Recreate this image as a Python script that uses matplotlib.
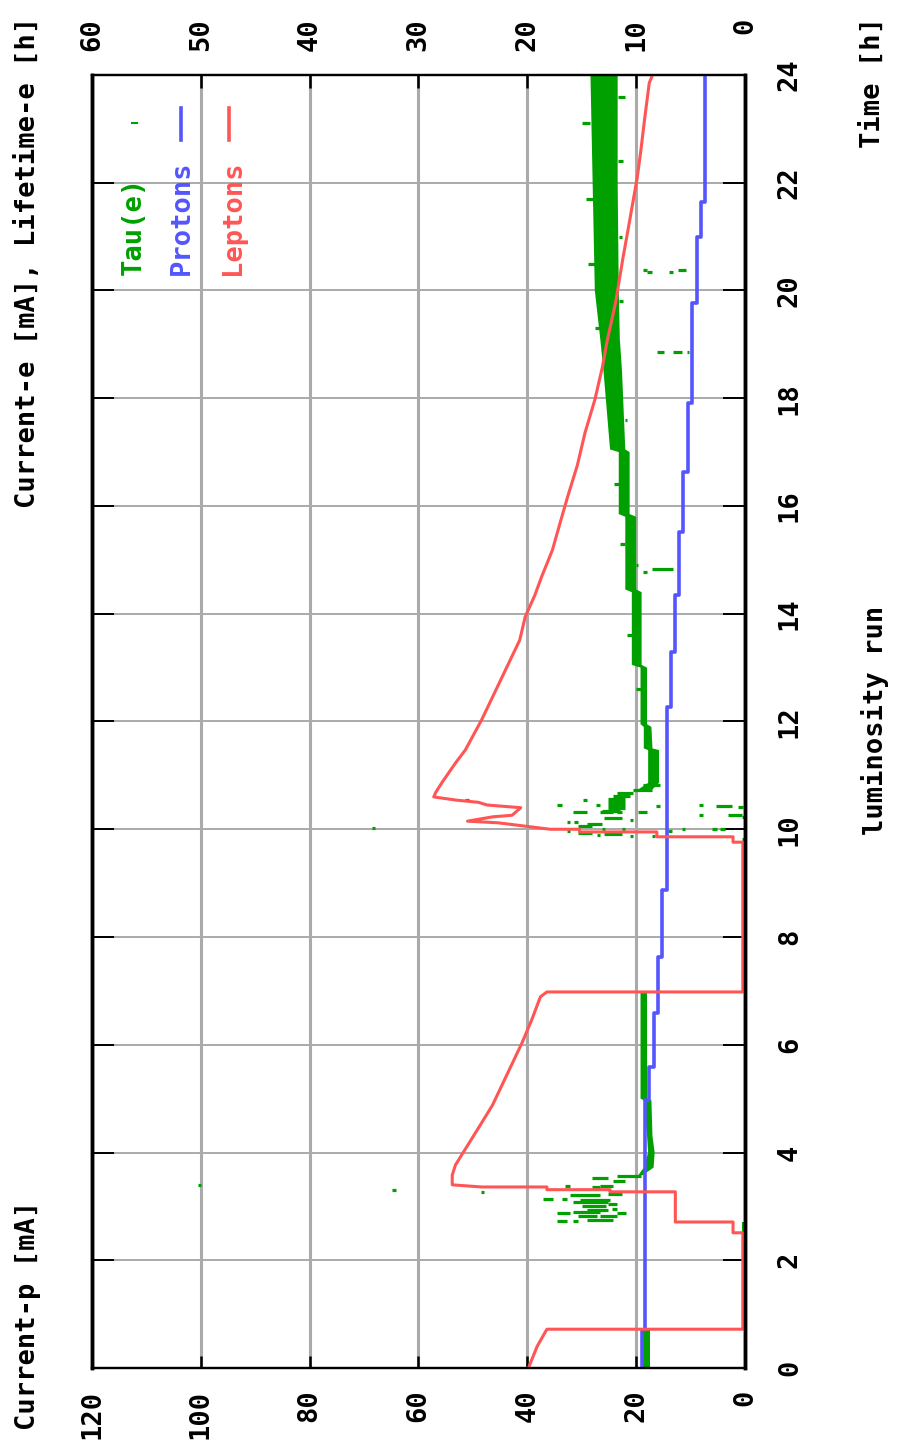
import matplotlib
matplotlib.use("Agg")
import matplotlib.pyplot as plt
import numpy as np

# proton current [mA] (left axis), step values starting at given time [h]
proton_t = [0, 0.7, 4.97, 5.59, 6.59, 7.63, 8.87, 12.27, 13.29, 14.35, 15.52, 16.63, 17.91, 19.77, 20.99, 21.64, 24]
proton_mA = [18.9, 18.4, 17.6, 16.7, 16.0, 15.3, 14.3, 13.6, 12.9, 12.1, 11.4, 10.5, 9.7, 8.8, 8.1, 7.4, 7.4]

# lepton current [mA] (right axis), polyline (time, current)
lepton = [
    (0.0, 19.9), (0.4, 19.1), (0.58, 18.6), (0.72, 18.2), (0.72, 0.2), (2.51, 0.2),
    (2.51, 1.1), (2.71, 1.1), (2.71, 6.4), (3.27, 6.4), (3.27, 12.4), (3.31, 12.4),
    (3.31, 18.2), (3.36, 18.2), (3.36, 24.2), (3.40, 26.9), (3.58, 26.9), (3.77, 26.6),
    (4.55, 24.2), (4.88, 23.2), (6.03, 20.5), (6.46, 19.6), (6.89, 18.8), (6.98, 18.2),
    (6.98, 0.2), (9.76, 0.2), (9.76, 1.1), (9.86, 1.1), (9.86, 8.1), (9.95, 8.1),
    (9.95, 15.2), (10.0, 15.2), (10.0, 17.9), (10.12, 22.7), (10.15, 25.5), (10.23, 23.2),
    (10.26, 21.4), (10.40, 20.6), (10.45, 23.7), (10.50, 24.5), (10.54, 26.5), (10.60, 28.6),
    (10.69, 28.4), (10.88, 27.8), (11.23, 26.6), (11.47, 25.7), (12.03, 24.2), (13.51, 20.7),
    (13.94, 20.2), (14.35, 19.3), (14.68, 18.7), (15.18, 17.7), (15.68, 17.0), (16.17, 16.3),
    (16.76, 15.4), (17.36, 14.7), (17.97, 13.8), (18.58, 13.1), (19.03, 12.7), (19.77, 11.9),
    (20.62, 11.2), (21.18, 10.7), (22.1, 9.9), (22.55, 9.6), (23.22, 9.2), (23.85, 8.8), (24.0, 8.5),
]

# lifetime tau(e) [h] (right axis): band of the dense dots (time, low, high), nan = no beam
tau_band = [
    (0.0, 8.7, 9.5), (0.72, 8.7, 9.5), (np.nan, np.nan, np.nan),
    (2.51, 0.0, 0.3), (2.71, 0.0, 0.3), (np.nan, np.nan, np.nan),
    (3.58, 9.4, 9.8), (3.72, 8.4, 9.3), (4.0, 8.3, 8.9), (4.3, 8.5, 9.0), (4.97, 8.6, 9.3),
    (5.0, 9.0, 9.6), (6.98, 9.0, 9.6), (np.nan, np.nan, np.nan),
    (10.7, 8.7, 10.1), (10.86, 7.9, 8.9), (11.47, 7.9, 8.9), (11.5, 8.5, 9.3), (11.9, 8.6, 9.3),
    (11.95, 9.0, 9.6), (13.0, 9.0, 9.6), (13.05, 9.5, 10.4), (14.4, 9.5, 10.4), (14.45, 10.0, 11.0),
    (15.8, 10.0, 11.0), (15.85, 10.6, 11.6), (17.0, 10.6, 11.6), (17.05, 11.0, 12.4),
    (18.5, 11.3, 13.0), (19.1, 11.5, 13.3), (20.0, 11.6, 13.8), (22.0, 11.7, 14.0), (24.0, 11.7, 14.2),
]

# scattered tau(e) dots after injections and outliers (time, low, high)
tau_spikes = [
    (3.53, 12.6, 14.1), (3.57, 9.6, 11.8), (3.47, 11.0, 12.1), (3.38, 12.1, 13.3), (3.36, 13.3, 14.1),
    (3.38, 16.1, 16.5), (3.22, 13.3, 16.1), (3.23, 11.3, 12.6), (3.14, 17.6, 18.6), (3.14, 16.4, 16.8),
    (3.08, 12.6, 15.8), (3.04, 11.8, 12.6), (2.94, 12.6, 14.5), (2.95, 11.8, 12.2), (2.90, 13.3, 15.8),
    (2.88, 10.9, 11.8), (2.88, 16.1, 17.3), (2.83, 13.6, 15.3), (2.83, 11.8, 13.3), (2.74, 12.1, 14.5),
    (2.73, 16.4, 17.3), (2.73, 15.3, 15.8), (3.00, 12.8, 15.0), (3.12, 12.4, 15.2),
    (3.27, 24.0, 24.3), (3.40, 50.0, 50.3), (3.30, 32.1, 32.4),
    (10.82, 7.8, 9.4), (10.73, 8.5, 10.3), (10.67, 10.3, 11.8), (10.62, 10.6, 12.1), (10.56, 11.0, 12.6),
    (10.51, 11.0, 12.6), (10.45, 11.0, 12.6), (10.40, 11.0, 12.6), (10.34, 11.5, 13.1), (10.54, 14.5, 14.9),
    (10.45, 16.8, 17.3), (10.45, 13.3, 13.7), (10.32, 14.5, 15.8), (10.32, 12.1, 13.3), (10.32, 11.3, 11.8),
    (10.32, 9.0, 9.8), (10.21, 11.3, 13.0), (10.17, 10.3, 10.6), (10.13, 16.1, 16.4), (10.13, 15.3, 15.7),
    (10.06, 14.1, 15.3), (10.10, 13.1, 14.5), (10.01, 12.9, 13.1), (10.01, 11.0, 11.3), (9.97, 16.1, 16.4),
    (9.93, 14.1, 15.3), (9.89, 13.3, 13.6), (9.91, 11.3, 13.0), (9.87, 10.3, 10.6), (9.87, 8.3, 8.5),
    (10.43, 7.8, 8.2), (9.97, 6.7, 7.1), (10.01, 5.5, 5.8), (10.45, 3.9, 4.2), (10.26, 3.9, 4.2),
    (10.43, 1.2, 2.7), (10.26, 0.3, 1.6), (10.41, 0.2, 0.6), (10.01, 2.6, 3.0), (10.01, 1.8, 2.3),
    (10.23, 0.0, 0.3), (9.82, 0.0, 0.3), (10.02, 34.0, 34.3), (10.54, 25.4, 25.7),
    (14.77, 9.0, 9.4), (14.83, 6.6, 8.5),
    (18.86, 7.4, 8.1), (18.86, 5.8, 6.6), (18.86, 5.1, 5.3),
    (20.38, 9.0, 9.4), (20.34, 8.5, 9.0), (20.34, 6.6, 7.0), (20.38, 5.4, 6.2),
    # ragged edges of the dense band
    (23.6, 11.0, 11.7), (23.1, 14.2, 15.0), (22.4, 11.2, 11.7), (21.7, 14.0, 14.6), (21.0, 11.3, 11.6),
    (20.5, 13.8, 14.4), (19.8, 11.2, 11.6), (19.3, 13.3, 13.8), (18.2, 12.4, 12.9), (17.6, 10.8, 11.0),
    (16.4, 11.6, 12.0), (15.3, 11.0, 11.5), (14.9, 9.8, 10.0), (13.6, 10.4, 10.8), (12.6, 9.6, 10.0),
]

current_p_ticks = [0, 20, 40, 60, 80, 100, 120]
lifetime_ticks = [0, 10, 20, 30, 40, 50, 60]
time_ticks = list(range(0, 25, 2))

GREEN = "#00a000"
BLUE = "#5555ff"
RED = "#ff5555"
GRID = "#aaaaaa"

plt.rcParams["font.family"] = ["DejaVu Sans Mono"]
plt.rcParams["font.size"] = 19.5
plt.rcParams["font.weight"] = "bold"

W, H = 898, 1444
fig = plt.figure(figsize=(W / 100, H / 100), dpi=100)
L, R, T, B = 92, 745, 75, 1368
ax = fig.add_axes([L / W, 1 - B / H, (R - L) / W, (B - T) / H])
ax.set_xlim(120, 0)
ax.set_ylim(0, 24)
ax2 = ax.twiny()
ax2.set_xlim(60, 0)

# grid
for v in current_p_ticks[1:-1]:
    ax.axvline(v, color=GRID, lw=2.2, zorder=1)
for t in time_ticks[1:-1]:
    ax.axhline(t, color=GRID, lw=1.4, zorder=1)

# tau(e) on the right-axis scale
tt, tlo, thi = (np.array(a) for a in zip(*tau_band))
ax.fill_betweenx(tt, tlo, thi, color=GREEN, lw=0, zorder=2, transform=ax2.transData)
st, slo, shi = zip(*tau_spikes)
ax.hlines(st, slo, shi, colors=GREEN, lw=2.3, zorder=2, transform=ax2.transData)

# protons, steps along the time axis
pt = np.repeat(proton_t, 2)[1:]
pv = np.repeat(proton_mA, 2)[:-1]
ax.plot(pv, pt, color=BLUE, lw=2.6, zorder=3)

# leptons on the right-axis scale
lt, lc = zip(*lepton)
ax.plot(lc, lt, color=RED, lw=2.2, zorder=4, transform=ax2.transData)

# ticks
ax.set_xticks(current_p_ticks)
ax.set_xticklabels([str(v) for v in current_p_ticks])
ax.tick_params(axis="x", bottom=True, top=False, direction="in", length=9, width=1.8,
               pad=15.5, labelrotation=90)
ax.set_yticks(time_ticks)
ax.set_yticklabels([str(v) for v in time_ticks])
ax.tick_params(axis="y", left=True, right=True, labelleft=False, labelright=True,
               direction="in", length=16, width=1.4, pad=23, labelrotation=90)
for lbl in ax.get_yticklabels():
    lbl.set_va("center")

ax2.set_xticks(lifetime_ticks)
ax2.set_xticklabels([str(v) for v in lifetime_ticks])
ax2.tick_params(axis="x", top=True, direction="in", length=9, width=1.8, pad=41, labelrotation=90)
for lbl in ax2.get_xticklabels():
    lbl.set_va("top")

for a in (ax, ax2):
    for side in ("left", "right"):
        a.spines[side].set_linewidth(2.5)
    for side in ("top", "bottom"):
        a.spines[side].set_linewidth(1.6)

# axis titles
fig.text(28 / W, 1 - 1430 / H, "Current-p [mA]", rotation=90, ha="center", va="bottom")
fig.text(28 / W, 1 - 17 / H, "Current-e [mA], Lifetime-e [h]", rotation=90, ha="center", va="top")
fig.text(873 / W, 1 - 17 / H, "Time [h]", rotation=90, ha="center", va="top")
fig.text(875 / W, 1 - 720 / H, "luminosity run", rotation=90, ha="center", va="center")

# legend
def axpt(x, y):
    return (x - L) / (R - L), (B - y) / (B - T)

for name, col, xc in [("Tau(e)", GREEN, 134), ("Protons", BLUE, 182), ("Leptons", RED, 233)]:
    ax.text(*axpt(xc, 275), name, color=col, rotation=90, ha="center", va="bottom",
            transform=ax.transAxes, zorder=6)
for col, xc in [(BLUE, 181), (RED, 229)]:
    x0, y0 = axpt(xc, 140)
    x1, y1 = axpt(xc, 108)
    ax.plot([x0, x1], [y0, y1], color=col, lw=2.6, transform=ax.transAxes, zorder=6)
x0, y0 = axpt(132, 123)
x1, _ = axpt(137, 123)
ax.plot([x0, x1], [y0, y0], color=GREEN, lw=1.5, transform=ax.transAxes, zorder=6)

fig.savefig("out.png", dpi=100)
